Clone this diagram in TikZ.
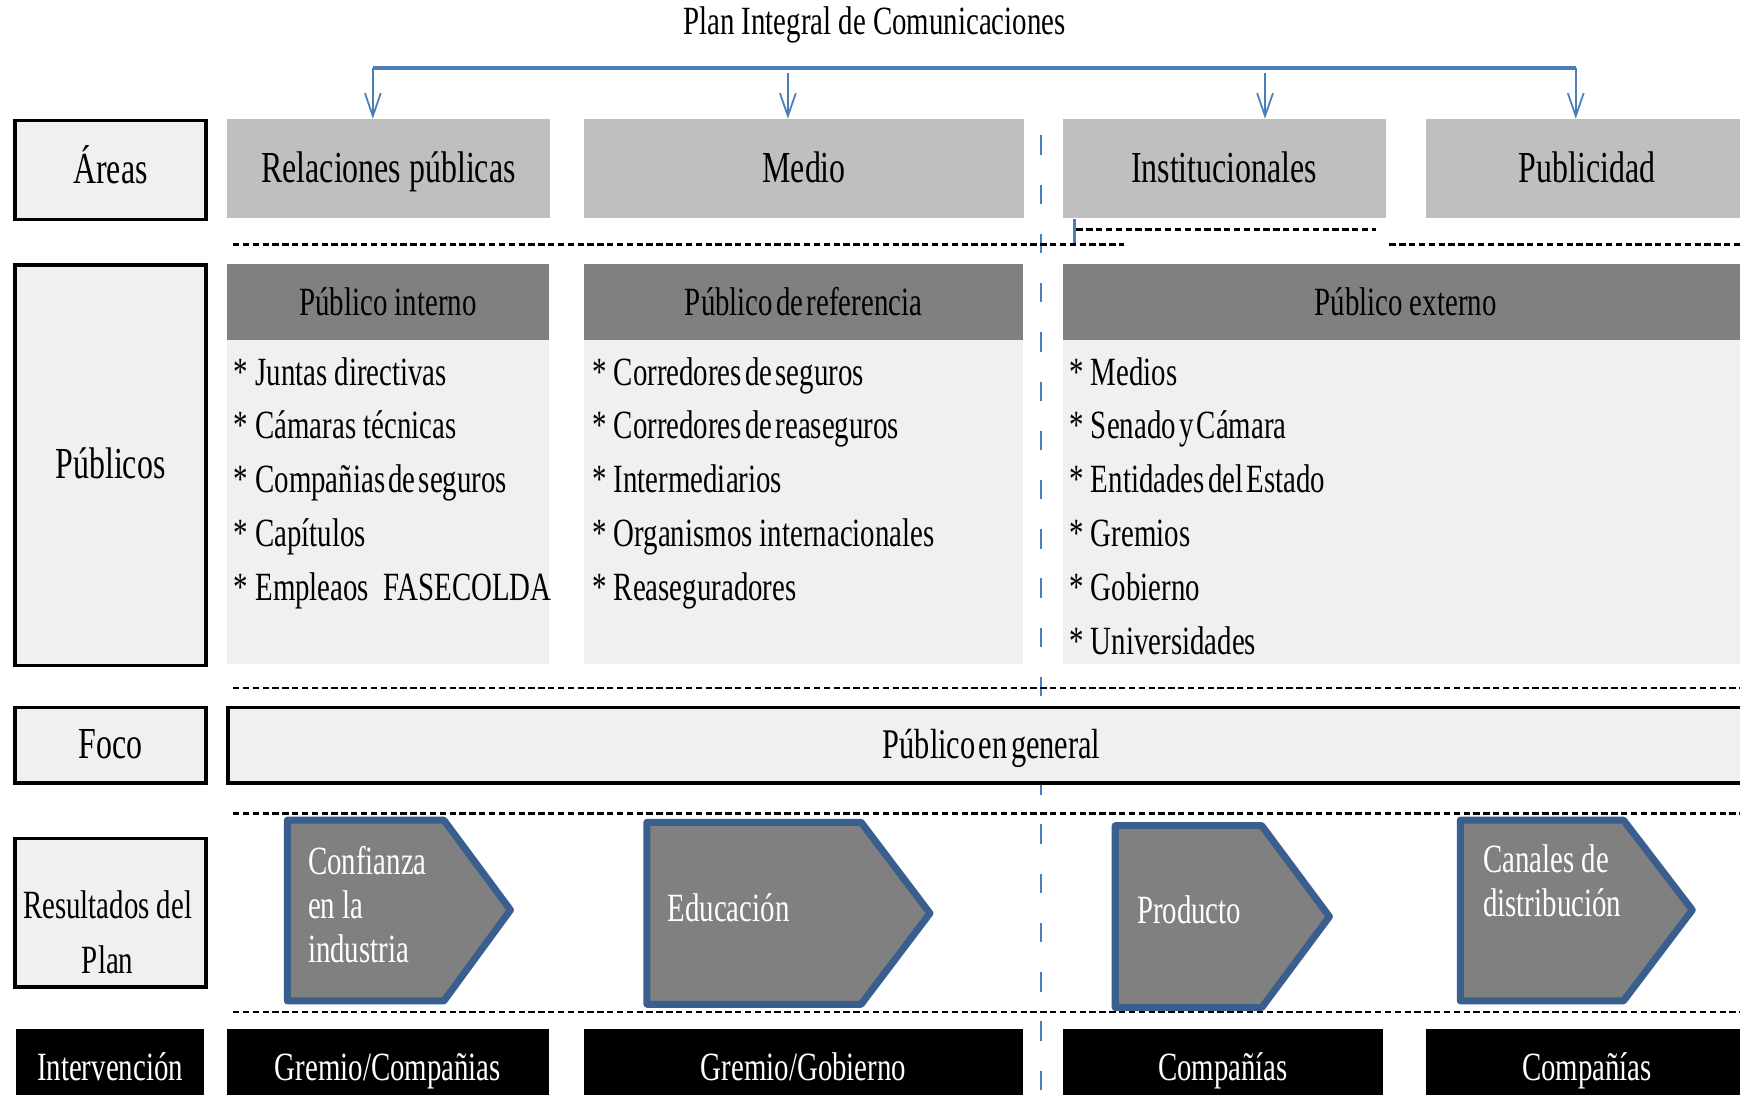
\documentclass[tikz,border=0pt]{standalone}
\usepackage{fontspec}
\setmainfont{Liberation Serif}[FakeStretch=0.72]
\usepackage{xcolor}
\usepackage{tikz}
\usetikzlibrary{arrows.meta, positioning, calc}
\definecolor{AreaGrey}{HTML}{BFBFBF}
\definecolor{HeadGrey}{HTML}{808080}
\definecolor{LightGrey}{HTML}{F0F0F0}
\definecolor{LineBlue}{HTML}{4A7EBB}
\definecolor{ChevBlue}{HTML}{3A5F8F}
\newcommand{\tightsp}{\spaceskip=0.08em\relax}
\tikzset{sz/.style 2 args={minimum width={(#1)*0.011097cm}, minimum height={(#2)*0.011097cm}}}

\begin{document}
\begin{tikzpicture}[x=0.011097cm, y=-0.011097cm, >={Straight Barb[length=6.5pt,width=4.5pt]}, every node/.style={font=\fontsize{11.4}{14}\selectfont}]
    \tikzstyle{cell} = [inner sep=0pt, align=center, anchor=north west]
    \tikzstyle{oneline} = [text height=1em, text depth=0.24em]
    \tikzstyle{big} = [font=\fontsize{12.6}{15}\selectfont]
    \tikzstyle{rowname} = [cell, oneline, draw=black, line width=1pt, fill=LightGrey]
    \tikzstyle{area} = [cell, oneline, big, fill=AreaGrey]
    \tikzstyle{head} = [cell, oneline, fill=HeadGrey]
    \tikzstyle{body} = [cell, fill=LightGrey]
    \tikzstyle{item} = [anchor=base west, inner sep=0pt]
    \tikzstyle{who} = [cell, oneline, fill=black, text=white]
    \tikzstyle{chev} = [draw=ChevBlue, line width=2pt, fill=HeadGrey, line join=round]
    \tikzstyle{cname} = [anchor=west, inner sep=0pt, text=white, align=left, font=\fontsize{11.4}{12.5}\selectfont]
    \tikzstyle{dline} = [draw, line width=0.8pt, dash pattern=on 1.8pt off 1pt]
    \tikzstyle{line} = [draw, ->, LineBlue, line width=0.5pt]

    \useasboundingbox (0,0) rectangle (1568,986);

    % divider between the columns
    \draw[LineBlue, line width=0.6pt, dash pattern=on 5.5pt off 8.5pt] (938,122) -- (938,990);

    % title and areas
    \node (plan) at (788,22) {Plan Integral de Comunicaciones};
    \node [rowname, big, sz={172}{89}] (areas) at (12,107) {Áreas};
    \node [area, sz={291}{89}] (rp) at (204,107) {Relaciones públicas};
    \node [area, sz={396}{89}] (medio) at (526,107) {Medio};
    \node [area, sz={291}{89}] (inst) at (957,107) {Institucionales};
    \node [area, sz={291}{89}] (publ) at (1284,107) {Publicidad};

    \coordinate (t1) at (336,61);
    \coordinate (t2) at (710,61);
    \coordinate (t3) at (1140,61);
    \coordinate (t4) at (1420,61);
    \draw [LineBlue, line width=1.2pt] (t1) -- (t4);
    \path [line] (t1) -- (t1 |- rp.north);
    \path [line] ($(t2)+(0,5)$) -- (t2 |- medio.north);
    \path [line] ($(t3)+(0,5)$) -- (t3 |- inst.north);
    \path [line] (t4) -- (t4 |- publ.north);

    \coordinate (k) at (968,220);
    \draw [LineBlue, line width=0.8pt] (k |- inst.south) -- (k);
    \path [dline] (210,220) -- (1013,220);
    \path [dline] (970,207) -- (1240,207);
    \path [dline] (1252,220) -- (1568,220);

    % publicos
    \node [rowname, big, sz={172}{361}] (publicos) at (12,237) {Públicos};
    \node [body, sz={290}{292}] (bi) at (204,306) {};
    \node [body, sz={395}{292}] (br) at (526,306) {};
    \node [body, sz={618}{292}] (be) at (957,306) {};
    \node [head, sz={290}{69}] (pi) at (204,237) {Público interno};
    \node [head, sz={395}{69}] (pr) at (526,237) {{\tightsp Público de referencia}};
    \node [head, sz={618}{69}] (pe) at (957,237) {Público externo};

    \foreach \t [count=\i] in {Juntas directivas, Cámaras técnicas, {\tightsp Compañias de seguros}, Capítulos, Empleaos\ \ FASECOLDA}
        \node [item] (i-\i) at (210, {298.5+48.5*\i}) {* \t};
    \foreach \t [count=\i] in {{\tightsp Corredores de seguros}, {\tightsp Corredores de reaseguros}, Intermediarios, Organismos internacionales, Reaseguradores}
        \node [item] (r-\i) at (533, {298.5+48.5*\i}) {* \t};
    \foreach \t [count=\i] in {Medios, {\tightsp Senado y Cámara}, {\tightsp Entidades del Estado}, Gremios, Gobierno, Universidades}
        \node [item] (e-\i) at (963, {298.5+48.5*\i}) {* \t};

    \path [dline] (210,620) -- (1568,620);

    % foco
    \node [rowname, big, sz={172}{68}] (foco) at (12,636) {Foco};
    \node [rowname, font=\fontsize{12}{14}\selectfont, sz={1376}{68}] (pg) at (204,636) {{\tightsp Público en general}};

    \path [dline] (210,733) -- (1568,733);

    % resultados
    \node [rowname, sz={172}{134}] (res) at (12,754) {};
    \node [align=center, font=\fontsize{11.4}{15.7}\selectfont] (res-txt) at (97,840) {Resultados del\\Plan};
    \path [chev] (259,739) -- (400,739) -- (460,820) -- (400,902) -- (259,902) -- cycle;
    \path [chev] (583,741) -- (776,741) -- (838,823) -- (776,905) -- (583,905) -- cycle;
    \path [chev] (1005,744) -- (1137,744) -- (1198,826) -- (1137,908) -- (1005,908) -- cycle;
    \path [chev] (1316,739) -- (1463,739) -- (1525,820) -- (1463,902) -- (1316,902) -- cycle;
    \node [cname] (c1) at (277,815) {Confianza\\en la\\industria};
    \node [cname] (c2) at (601,818) {Educación};
    \node [cname] (c3) at (1024,820) {Producto};
    \node [cname] (c4) at (1336,794) {Canales de\\distribución};

    \path [dline] (210,912) -- (1568,912);

    % intervencion
    \node [who, sz={169}{68}] (interv) at (14,927) {Intervención};
    \node [who, sz={290}{68}] (w1) at (204,927) {Gremio/Compañias};
    \node [who, sz={395}{68}] (w2) at (526,927) {Gremio/Gobierno};
    \node [who, sz={289}{68}] (w3) at (957,927) {Compañías};
    \node [who, sz={291}{68}] (w4) at (1284,927) {Compañías};
\end{tikzpicture}
\end{document}
